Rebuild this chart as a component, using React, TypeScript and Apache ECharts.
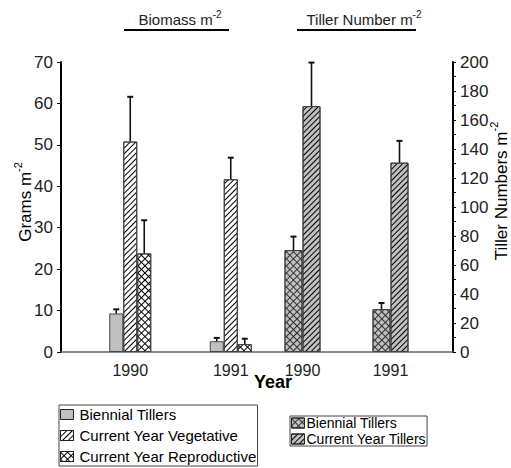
import React, { useEffect, useRef } from "react";
import * as echarts from "echarts";

const years = ["1990", "1991"];
const biomassBiennial = [9.3, 2.6];
const biomassBiennialErr = [1.0, 0.8];
const biomassVeg = [50.8, 41.7];
const biomassVegErr = [10.8, 5.2];
const biomassRepro = [23.8, 1.9];
const biomassReproErr = [8.0, 1.3];
const tillerBiennial = [70.3, 29.6];
const tillerBiennialErr = [9.3, 4.2];
const tillerCurrent = [169.6, 130.6];
const tillerCurrentErr = [30.0, 15.0];

const leftTicks = { min: 0, max: 70, interval: 10 };
const rightTicks = { min: 0, max: 200, interval: 20 };

const FONT = "Liberation Sans, Arial, sans-serif";
const GRAY = "#c0c0c0";

const diagDecal = () => ({
  symbol: "rect",
  symbolSize: 1,
  symbolKeepAspect: false,
  dashArrayX: [1, 0],
  dashArrayY: [1, 3],
  rotation: -Math.PI / 4,
  color: "#000",
});
const crossDecal = (line: string) => ({
  symbol: "rect",
  symbolSize: 1,
  symbolKeepAspect: false,
  dashArrayX: [
    [1, 0],
    [1, 4],
  ],
  dashArrayY: [1, 0, 4, 0],
  rotation: Math.PI / 4,
  color: line,
});

const displayName: Record<string, string> = {
  "Biennial Tillers (T)": "Biennial Tillers",
};

function errSeries(xi: number, yi: number, vals: number[], errs: number[], offset: number) {
  return {
    type: "custom",
    xAxisIndex: xi,
    yAxisIndex: yi,
    z: 5,
    encode: { x: 0, y: 1 },
    data: vals.map((v, i) => [i, v, errs[i]]),
    renderItem: (_p: any, api: any) => {
      const i = api.value(0);
      const v = api.value(1);
      const e = api.value(2);
      const b = api.coord([i, v]);
      const t = api.coord([i, v + e]);
      const x = b[0] + offset;
      return {
        type: "group",
        children: [
          { type: "line", shape: { x1: x, y1: b[1], x2: x, y2: t[1] }, style: { stroke: "#111", lineWidth: 1.6 } },
          { type: "line", shape: { x1: x - 3, y1: t[1], x2: x + 3, y2: t[1] }, style: { stroke: "#111", lineWidth: 2 } },
        ],
      };
    },
  };
}

export default function App() {
  const ref = useRef<HTMLDivElement>(null);
  useEffect(() => {
    const chart = echarts.init(ref.current!, null, { renderer: "svg" });
    const gridPos = { top: 62, bottom: 116 };
    const catAxis = (gi: number) => ({
      type: "category",
      gridIndex: gi,
      data: years,
      axisLine: { show: false },
      axisTick: { show: false },
      axisLabel: { fontSize: 16, color: "#222", fontFamily: FONT, margin: 10 },
    });
    const hiddenY = (gi: number, t: any) => ({
      type: "value",
      gridIndex: gi,
      ...t,
      show: false,
      splitLine: { show: false },
    });
    const barStyle = (color: string, decal?: any) => ({
      color,
      borderColor: "#444",
      borderWidth: 1,
      ...(decal ? { decal } : {}),
    });
    const subTitle = (label: string, size: number, supSize: number, lh: number, fill: string) => ({
      text: `{a|${label}}{s|-2}`,
      align: "center",
      verticalAlign: "middle",
      fill,
      rich: {
        a: { fontSize: size, fontFamily: FONT, fill, lineHeight: lh, verticalAlign: "bottom" },
        s: { fontSize: supSize, fontFamily: FONT, fill, lineHeight: lh, verticalAlign: "top" },
      },
    });
    const option: any = {
      animation: false,
      textStyle: { fontFamily: FONT },
      grid: [
        { left: 61, right: 58, ...gridPos },
        { left: 80, right: 230, ...gridPos },
        { left: 258.5, right: 76.5, ...gridPos },
      ],
      xAxis: [
        {
          type: "category",
          gridIndex: 0,
          data: [""],
          axisLine: { show: true, lineStyle: { color: "#666", width: 1.5 } },
          axisTick: { show: false },
          axisLabel: { show: false },
        },
        catAxis(1),
        catAxis(2),
      ],
      yAxis: [
        {
          type: "value",
          gridIndex: 0,
          position: "left",
          ...leftTicks,
          axisLine: { show: true, lineStyle: { color: "#000", width: 2 } },
          axisTick: { show: true, length: 4, lineStyle: { color: "#000" } },
          axisLabel: { fontSize: 17, color: "#222", fontFamily: FONT, margin: 8 },
          splitLine: { show: false },
        },
        {
          type: "value",
          gridIndex: 0,
          position: "right",
          ...rightTicks,
          axisLine: { show: true, lineStyle: { color: "#000", width: 2 } },
          axisTick: { show: true, length: 3, lineStyle: { color: "#000" } },
          minorTick: { show: true, splitNumber: 2, length: 3, lineStyle: { color: "#000" } },
          axisLabel: { fontSize: 17, color: "#222", fontFamily: FONT, margin: 7 },
          splitLine: { show: false },
        },
        hiddenY(1, leftTicks),
        hiddenY(2, rightTicks),
      ],
      legend: [
        {
          data: ["Biennial Tillers", "Current Year Vegetative", "Current Year Reproductive"],
          orient: "vertical",
          left: 59,
          top: 405,
          selectedMode: false,
          borderColor: "#444",
          borderWidth: 1,
          borderRadius: 0,
          padding: [2, 1, 2, 1],
          itemWidth: 13,
          itemHeight: 10,
          itemGap: 6,
          icon: "rect",
          itemStyle: { borderColor: "#222", borderWidth: 1 },
          textStyle: { fontSize: 15, color: "#000", fontFamily: FONT, padding: [0, 0, 0, 1] },
        },
        {
          data: ["Biennial Tillers (T)", "Current Year Tillers"],
          formatter: (n: string) => displayName[n] || n,
          orient: "vertical",
          left: 290,
          top: 416,
          selectedMode: false,
          borderColor: "#444",
          borderWidth: 1,
          borderRadius: 0,
          padding: [0, 1, 0, 1],
          itemWidth: 13,
          itemHeight: 10,
          itemGap: 2,
          icon: "rect",
          itemStyle: { borderColor: "#222", borderWidth: 1 },
          textStyle: { fontSize: 14, color: "#000", fontFamily: FONT, padding: [0, 0, 0, -3] },
        },
      ],
      series: [
        {
          name: "Biennial Tillers",
          type: "bar",
          xAxisIndex: 1,
          yAxisIndex: 2,
          barWidth: 14,
          barGap: "0%",
          data: biomassBiennial,
          itemStyle: barStyle(GRAY),
        },
        {
          name: "Current Year Vegetative",
          type: "bar",
          xAxisIndex: 1,
          yAxisIndex: 2,
          barWidth: 14,
          barGap: "0%",
          data: biomassVeg,
          itemStyle: barStyle("#fff", diagDecal()),
        },
        {
          name: "Current Year Reproductive",
          type: "bar",
          xAxisIndex: 1,
          yAxisIndex: 2,
          barWidth: 14,
          barGap: "0%",
          data: biomassRepro,
          itemStyle: barStyle("#fff", crossDecal("#000")),
        },
        {
          name: "Biennial Tillers (T)",
          type: "bar",
          xAxisIndex: 2,
          yAxisIndex: 3,
          barWidth: 18,
          barGap: "0%",
          data: tillerBiennial,
          itemStyle: barStyle(GRAY, crossDecal("#333")),
        },
        {
          name: "Current Year Tillers",
          type: "bar",
          xAxisIndex: 2,
          yAxisIndex: 3,
          barWidth: 18,
          barGap: "0%",
          data: tillerCurrent,
          itemStyle: barStyle(GRAY, diagDecal()),
        },
        errSeries(1, 2, biomassBiennial, biomassBiennialErr, -14),
        errSeries(1, 2, biomassVeg, biomassVegErr, 0),
        errSeries(1, 2, biomassRepro, biomassReproErr, 14),
        errSeries(2, 3, tillerBiennial, tillerBiennialErr, -9),
        errSeries(2, 3, tillerCurrent, tillerCurrentErr, 9),
      ],
      graphic: [
        { type: "text", x: 180, y: 18, style: subTitle("Biomass m", 15, 10, 18, "#222") },
        { type: "line", shape: { x1: 124, y1: 30, x2: 229, y2: 30 }, style: { stroke: "#000", lineWidth: 2 } },
        { type: "text", x: 364, y: 18, style: subTitle("Tiller Number m", 15, 10, 18, "#222") },
        { type: "line", shape: { x1: 297, y1: 30, x2: 416, y2: 30 }, style: { stroke: "#000", lineWidth: 2 } },
        { type: "text", x: 23, y: 202, rotation: Math.PI / 2, style: subTitle("Grams m", 17, 11, 22, "#000") },
        { type: "text", x: 499, y: 191, rotation: Math.PI / 2, style: subTitle("Tiller Numbers m", 17, 11, 22, "#000") },
        {
          type: "text",
          x: 273,
          y: 382,
          style: {
            text: "Year",
            align: "center",
            verticalAlign: "middle",
            fill: "#000",
            fontSize: 18,
            fontWeight: "bold",
            fontFamily: FONT,
          },
        },
      ],
    };
    chart.setOption(option);
    return () => chart.dispose();
  }, []);
  return <div ref={ref} style={{ position: "fixed", left: 0, top: 0, width: 511, height: 468, background: "#fff" }} />;
}
